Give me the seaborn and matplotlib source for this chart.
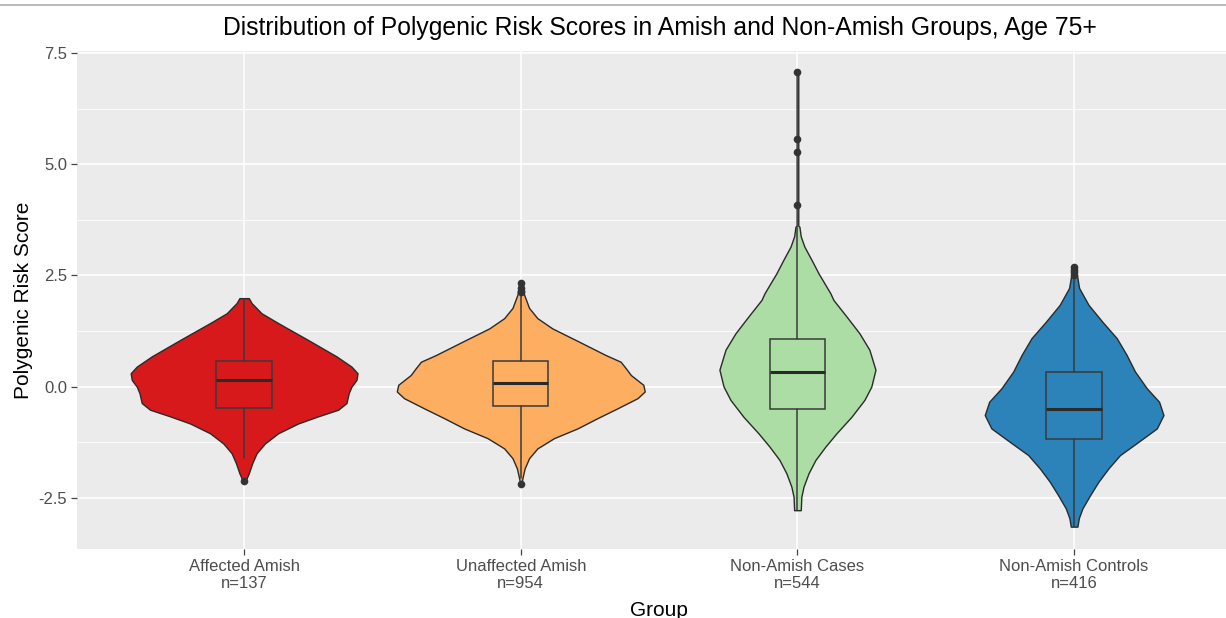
import numpy as np
import pandas as pd
import matplotlib
matplotlib.use("Agg")
import matplotlib.pyplot as plt
import seaborn as sns
from matplotlib.lines import Line2D

# ---------------------------------------------
# 1. Values
# ---------------------------------------------
groups = ["Affected Amish", "Unaffected Amish", "Non-Amish Cases", "Non-Amish Controls"]
group_n = [137, 954, 544, 416]
fill_colors = ["#d7191c", "#fdae61", "#abdda4", "#2b83ba"]

# box stats per group
box_whislo = [-1.61, -2.05, -2.78, -3.15]
box_q1 = [-0.49, -0.43, -0.51, -1.18]
box_med = [0.14, 0.07, 0.32, -0.50]
box_q3 = [0.58, 0.58, 1.07, 0.32]
box_whishi = [1.97, 2.08, 3.60, 2.45]

# outlying scores
outliers_affected = [-2.12]
outliers_unaffected = [2.32, 2.22, 2.15, 2.12, -2.20]
outliers_cases = [7.08, 5.58, 5.27, 4.08]
outliers_controls = [2.68, 2.62, 2.57, 2.52]

# violin outlines: score level and half width (in category units)
affected_y = [1.99, 1.88, 1.65, 1.43, 1.05, 0.68, 0.45, 0.30, 0.15, 0.00, -0.15,
              -0.37, -0.52, -0.67, -0.83, -1.05, -1.28, -1.50, -1.73, -1.95, -2.12]
affected_w = [0.017, 0.027, 0.063, 0.123, 0.231, 0.334, 0.388, 0.410, 0.406, 0.388, 0.378,
              0.370, 0.340, 0.267, 0.195, 0.123, 0.075, 0.045, 0.029, 0.017, 0.005]

unaffected_y = [2.32, 2.07, 1.77, 1.54, 1.31, 1.01, 0.71, 0.56, 0.41, 0.26, 0.04,
                -0.11, -0.26, -0.49, -0.71, -0.94, -1.16, -1.39, -1.61, -1.84, -2.06, -2.20]
unaffected_w = [0.005, 0.012, 0.030, 0.060, 0.114, 0.211, 0.307, 0.361, 0.380, 0.398, 0.443,
                0.448, 0.422, 0.349, 0.277, 0.205, 0.120, 0.060, 0.030, 0.014, 0.006, 0.002]

cases_y = [7.08, 4.00, 3.62, 3.60, 3.38, 3.15, 2.85, 2.55, 2.10, 1.95, 1.58, 1.20, 0.83,
           0.38, 0.00, -0.30, -0.68, -1.05, -1.35, -1.65, -1.95, -2.25, -2.48, -2.78]
cases_w = [0.003, 0.003, 0.003, 0.007, 0.012, 0.025, 0.051, 0.076, 0.119, 0.130, 0.177, 0.224,
           0.260, 0.282, 0.267, 0.242, 0.195, 0.141, 0.101, 0.065, 0.040, 0.022, 0.014, 0.012]

controls_y = [2.68, 2.52, 2.22, 1.84, 1.46, 1.09, 0.71, 0.34, -0.04, -0.34, -0.64,
              -0.94, -1.24, -1.54, -1.84, -2.14, -2.44, -2.74, -2.96, -3.15]
controls_w = [0.004, 0.010, 0.018, 0.052, 0.102, 0.154, 0.190, 0.220, 0.263, 0.307, 0.323,
              0.299, 0.233, 0.166, 0.124, 0.088, 0.058, 0.030, 0.017, 0.012]

y_ticks = [-2.5, 0.0, 2.5, 5.0, 7.5]
y_minor = [-1.25, 1.25, 3.75, 6.25]

# ---------------------------------------------
# 2. Style
# ---------------------------------------------
sns.set_theme(style="darkgrid", rc={
    "axes.facecolor": "#EBEBEB",
    "grid.color": "white",
    "figure.facecolor": "white",
})
plt.rcParams["font.family"] = ["Liberation Sans", "DejaVu Sans"]

W, H = 1226, 618
fig = plt.figure(figsize=(W / 100, H / 100), dpi=100)
ax = fig.add_axes([77 / W, 1 - 549.3 / H, (W - 77) / W, (549.3 - 51) / H])

# ---------------------------------------------
# 3. Outliers (seaborn strip plot)
# ---------------------------------------------
out_df = pd.DataFrame({
    "Group": [groups[0]] * len(outliers_affected) + [groups[1]] * len(outliers_unaffected)
             + [groups[2]] * len(outliers_cases) + [groups[3]] * len(outliers_controls),
    "Score": outliers_affected + outliers_unaffected + outliers_cases + outliers_controls,
})
sns.stripplot(data=out_df, x="Group", y="Score", order=groups, jitter=False,
              color="#333333", size=5.5, linewidth=0, zorder=5, ax=ax)

# ---------------------------------------------
# 4. Violins and boxes
# ---------------------------------------------
violins = [(affected_y, affected_w), (unaffected_y, unaffected_w),
           (cases_y, cases_w), (controls_y, controls_w)]
for i, (vy, vw) in enumerate(violins):
    vy = np.array(vy)
    vw = np.array(vw)
    ax.fill_betweenx(vy, i - vw, i + vw, facecolor=fill_colors[i],
                     edgecolor="#2a2a2a", linewidth=1.0, zorder=2)

stats = []
for i in range(len(groups)):
    stats.append(dict(med=box_med[i], q1=box_q1[i], q3=box_q3[i],
                      whislo=box_whislo[i], whishi=box_whishi[i], fliers=[]))
bp = ax.bxp(stats, positions=range(len(groups)), widths=0.2, patch_artist=True,
            showfliers=False, showcaps=False, manage_ticks=False, zorder=3,
            boxprops=dict(edgecolor="#3a3a3a", linewidth=1.1),
            whiskerprops=dict(color="#3a3a3a", linewidth=1.1),
            medianprops=dict(color="#2a2a2a", linewidth=2.2))
for patch, c in zip(bp["boxes"], fill_colors):
    patch.set_facecolor(c)

# ---------------------------------------------
# 5. Axes
# ---------------------------------------------
ax.set_xlim(-0.604, 3.549)
ax.set_ylim(-3.66, 7.55)
ax.set_xticks(range(len(groups)))
ax.set_xticklabels([f"{g}\nn={n}" for g, n in zip(groups, group_n)])
ax.set_yticks(y_ticks)
ax.set_yticklabels([f"{t:.1f}" for t in y_ticks])
ax.set_yticks(y_minor, minor=True)
ax.xaxis.grid(True, color="white", linewidth=1.1)
ax.yaxis.grid(True, which="major", color="white", linewidth=1.2)
ax.yaxis.grid(True, which="minor", color="white", linewidth=0.6)
ax.set_axisbelow(True)
for s in ax.spines.values():
    s.set_visible(False)
ax.tick_params(axis="both", which="major", length=4, width=0.9, color="#444444",
               labelcolor="#4D4D4D", labelsize=12, pad=3, bottom=True, left=True)
ax.tick_params(axis="y", which="minor", length=0)
ax.set_xlabel("")
ax.set_ylabel("")

fig.text(23.5 / W, 1 - 300 / H, "Polygenic Risk Score", rotation=90,
         ha="center", va="center", fontsize=15, color="black")
fig.text(659 / W, 1 - 601 / H, "Group", ha="center", va="top",
         fontsize=15, color="black")
fig.text(660 / W, 1 - 35 / H,
         "Distribution of Polygenic Risk Scores in Amish and Non-Amish Groups, Age 75+",
         ha="center", va="baseline", fontsize=17.8, color="black")
fig.add_artist(Line2D([0, 1], [1 - 4.5 / H] * 2, color="#b4b4b4", linewidth=1.3))

fig.savefig("out.png", dpi=100)
